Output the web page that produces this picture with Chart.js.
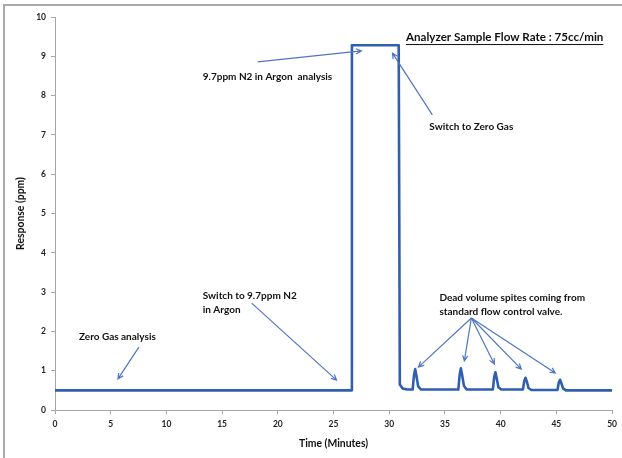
<!DOCTYPE html>
<html lang="en">
<head>
    <meta charset="UTF-8">
    <title>Analyzer response</title>
    <script src="https://cdn.jsdelivr.net/npm/chart.js"></script>
    <style>
        body {
            margin: 0;
            background: #fff;
        }

        #wrap {
            position: relative;
            width: 622px;
            height: 458px;
            overflow: hidden;
        }

        #frame {
            position: absolute;
            left: 3px;
            top: 4px;
            width: 700px;
            height: 600px;
            border: 2px solid #a9a9a9;
            pointer-events: none;
        }
    </style>
</head>
<body>
    <div id="wrap">
        <canvas id="chart" width="622" height="458"></canvas>
        <div id="frame"></div>
    </div>

    <script>
        // data
        const times = [0, 26.6, 26.65, 30.85, 30.95, 31.2, 31.6,
            32.1, 32.22, 32.33, 32.45, 32.6, 32.85,
            36.2, 36.32, 36.43, 36.55, 36.7, 36.95,
            39.3, 39.42, 39.53, 39.65, 39.8, 40.05,
            42.0, 42.12, 42.23, 42.35, 42.5, 42.75,
            45.1, 45.22, 45.33, 45.45, 45.6, 45.85, 50];
        const response = [0.5, 0.5, 9.28, 9.28, 0.65, 0.55, 0.52,
            0.52, 0.88, 1.04, 0.85, 0.6, 0.52,
            0.52, 0.9, 1.06, 0.88, 0.62, 0.52,
            0.52, 0.84, 0.96, 0.8, 0.58, 0.52,
            0.52, 0.74, 0.82, 0.72, 0.56, 0.51,
            0.51, 0.7, 0.77, 0.68, 0.55, 0.5, 0.5];
        const xTicks = [0, 5, 10, 15, 20, 25, 30, 35, 40, 45, 50];
        const yTicks = [0, 1, 2, 3, 4, 5, 6, 7, 8, 9, 10];

        // notes written on the chart (in data units)
        const notes = [
            { text: ['9.7ppm N2 in Argon  analysis'], x: 13.26, y: 8.47 },
            { text: ['Switch to Zero Gas'], x: 33.6, y: 7.2 },
            { text: ['Zero Gas analysis'], x: 2.15, y: 1.86 },
            { text: ['Switch to 9.7ppm N2', 'in Argon'], x: 13.26, y: 2.9 },
            { text: ['Dead volume spites coming from', 'standard flow control valve.'], x: 34.5, y: 2.85 }
        ];
        const arrows = [
            [18.19, 8.86, 27.5, 9.14],
            [33.87, 7.51, 30.29, 9.08],
            [7.53, 1.6, 5.65, 0.79],
            [17.65, 2.72, 25.27, 0.76],
            [37.37, 2.34, 32.62, 1.09],
            [37.37, 2.34, 36.74, 1.25],
            [37.37, 2.34, 39.43, 1.17],
            [37.37, 2.34, 41.85, 1.04],
            [37.37, 2.34, 44.9, 0.94]
        ];
        const heading = { text: 'Analyzer Sample Flow Rate : 75cc/min', x: 31.5, y: 9.49 };

        const labelFont = 'bold 10px Lato';

        const notesPlugin = {
            id: 'notes',
            afterDatasetsDraw(chart) {
                const ctx = chart.ctx;
                const sx = chart.scales.x, sy = chart.scales.y;
                ctx.save();
                ctx.fillStyle = '#111';
                ctx.font = labelFont;
                ctx.textBaseline = 'middle';
                notes.forEach(n => {
                    n.text.forEach((line, i) => {
                        ctx.fillText(line, sx.getPixelForValue(n.x), sy.getPixelForValue(n.y) + i * 14);
                    });
                });

                // heading, underlined
                ctx.font = 'bold 11.6px Lato';
                const hx = sx.getPixelForValue(heading.x), hy = sy.getPixelForValue(heading.y);
                ctx.fillText(heading.text, hx, hy);
                const w = ctx.measureText(heading.text).width;
                ctx.strokeStyle = '#111';
                ctx.lineWidth = 1;
                ctx.beginPath();
                ctx.moveTo(hx, hy + 7.5);
                ctx.lineTo(hx + w, hy + 7.5);
                ctx.stroke();

                // arrows
                ctx.strokeStyle = '#4f76c2';
                ctx.lineWidth = 1.2;
                arrows.forEach(a => {
                    const x1 = sx.getPixelForValue(a[0]), y1 = sy.getPixelForValue(a[1]);
                    const x2 = sx.getPixelForValue(a[2]), y2 = sy.getPixelForValue(a[3]);
                    const ang = Math.atan2(y2 - y1, x2 - x1);
                    ctx.beginPath();
                    ctx.moveTo(x1, y1);
                    ctx.lineTo(x2, y2);
                    ctx.moveTo(x2 - 6 * Math.cos(ang - 0.45), y2 - 6 * Math.sin(ang - 0.45));
                    ctx.lineTo(x2, y2);
                    ctx.lineTo(x2 - 6 * Math.cos(ang + 0.45), y2 - 6 * Math.sin(ang + 0.45));
                    ctx.stroke();
                });
                ctx.restore();
            }
        };

        const ctx = document.getElementById('chart').getContext('2d');
        const myChart = new Chart(ctx, {
            type: 'line',
            data: {
                datasets: [{
                    data: times.map((t, i) => ({ x: t, y: response[i] })),
                    borderColor: '#2f5fb3',
                    borderWidth: 2.6,
                    borderJoinStyle: 'round',
                    pointRadius: 0,
                    tension: 0,
                    fill: false
                }]
            },
            options: {
                responsive: false,
                animation: false,
                layout: { padding: { left: 0, right: 9, top: 17, bottom: 0 } },
                plugins: {
                    legend: { display: false },
                    tooltip: { enabled: false }
                },
                scales: {
                    x: {
                        type: 'linear',
                        min: 0,
                        max: 50,
                        afterBuildTicks: s => { s.ticks = xTicks.map(v => ({ value: v })); },
                        afterFit: s => { s.height = 48; },
                        border: { color: '#a6a6a6', width: 1 },
                        grid: { drawOnChartArea: false, tickLength: 4, color: '#a6a6a6' },
                        ticks: { color: '#222', padding: 5, maxRotation: 0, font: { family: 'Lato', size: 8.5, weight: 'bold' } },
                        title: {
                            display: true,
                            text: 'Time (Minutes)',
                            color: '#111',
                            padding: { top: 0, bottom: 8 },
                            font: { family: 'Lato', size: 10.4, weight: 'bold' }
                        }
                    },
                    y: {
                        min: 0,
                        max: 10,
                        afterBuildTicks: s => { s.ticks = yTicks.map(v => ({ value: v })); },
                        afterFit: s => { s.width = 55; },
                        border: { color: '#a6a6a6', width: 1 },
                        grid: { drawOnChartArea: false, tickLength: 4, color: '#a6a6a6' },
                        ticks: { color: '#222', padding: 5, font: { family: 'Lato', size: 8.5, weight: 'bold' } },
                        title: {
                            display: true,
                            text: 'Response (ppm)',
                            color: '#111',
                            padding: { top: 14, bottom: 0 },
                            font: { family: 'Lato', size: 10.4, weight: 'bold' }
                        }
                    }
                }
            },
            plugins: [notesPlugin]
        });
    </script>
</body>
</html>
